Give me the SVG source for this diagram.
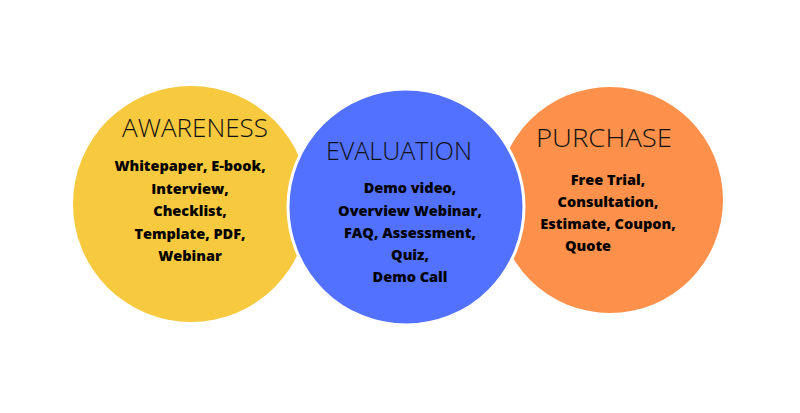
<svg xmlns="http://www.w3.org/2000/svg" width="800" height="413" viewBox="0 0 800 413">
<style>
.t{font-family:"Open Sans","Liberation Sans",sans-serif;font-size:26px;fill:#111;text-anchor:middle;font-weight:300}
.b{font-family:"Open Sans","Liberation Sans",sans-serif;font-size:14.5px;font-weight:800;fill:#000;text-anchor:middle}
</style>
<rect width="800" height="413" fill="#fff"/>
<g id="awareness">
<circle cx="191" cy="204" r="118" fill="#f6c93f"/>
<text class="t" x="195" y="137" textLength="146" lengthAdjust="spacingAndGlyphs">AWARENESS</text>
<text class="b" x="190" y="171">Whitepaper, E-book,</text>
<text class="b" x="190" y="194">Interview,</text>
<text class="b" x="190" y="216">Checklist,</text>
<text class="b" x="190" y="239">Template, PDF,</text>
<text class="b" x="190" y="261">Webinar</text>
</g>
<g id="purchase">
<circle cx="610" cy="200" r="113" fill="#fd914b"/>
<text class="t" x="604" y="147" textLength="136" lengthAdjust="spacingAndGlyphs">PURCHASE</text>
<text class="b" x="608" y="185">Free Trial,</text>
<text class="b" x="608" y="207">Consultation,</text>
<text class="b" x="608" y="229">Estimate, Coupon,</text>
<text class="b" x="588" y="251">Quote</text>
</g>
<g id="evaluation">
<circle cx="406" cy="207" r="118" fill="#5271ff" stroke="#fff" stroke-width="3"/>
<text class="t" x="399" y="160" textLength="146" lengthAdjust="spacingAndGlyphs">EVALUATION</text>
<text class="b" x="410" y="193">Demo video,</text>
<text class="b" x="410" y="216">Overview Webinar,</text>
<text class="b" x="410" y="238">FAQ, Assessment,</text>
<text class="b" x="410" y="260">Quiz,</text>
<text class="b" x="410" y="282">Demo Call</text>
</g>
<g id="connectors"/>
</svg>
